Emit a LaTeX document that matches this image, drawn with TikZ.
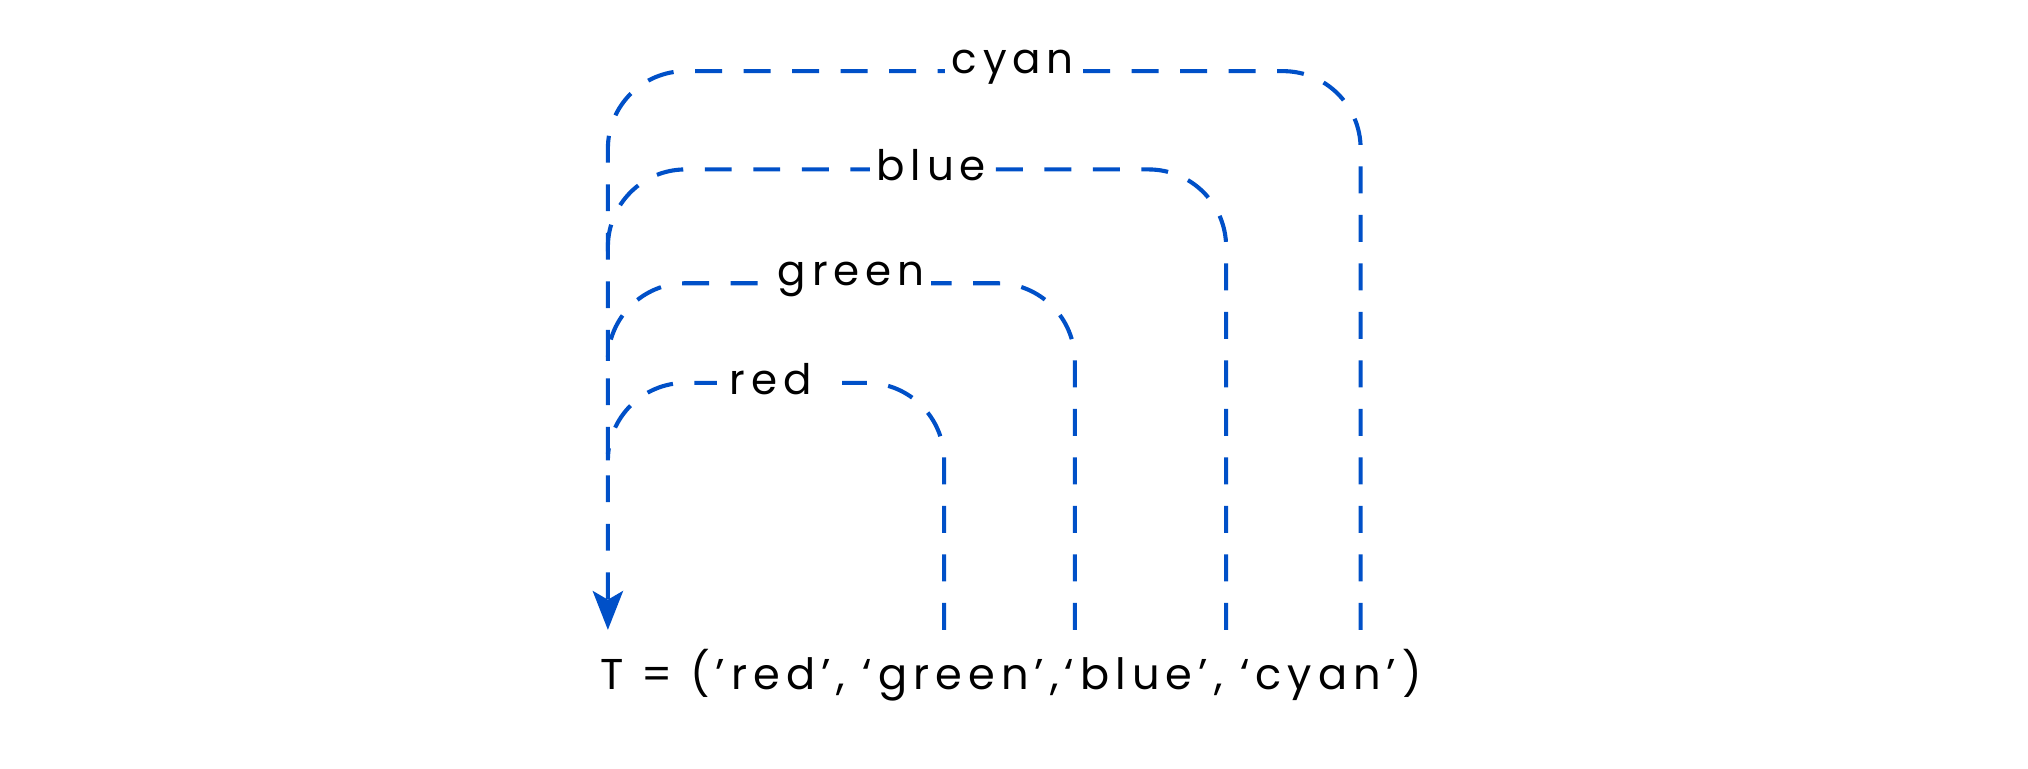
\documentclass[tikz,border=0pt]{standalone}
\usepackage{fontspec}
\setmainfont{Poppins}[LetterSpace=14]
\usetikzlibrary{arrows.meta}
\definecolor{lineblue}{HTML}{0050C8}
\tikzset{
  dline/.style={draw=lineblue, line width=1.9pt, dash pattern=on 12.5pt off 10pt, rounded corners=36pt},
  lbl/.style={fill=white, inner sep=3pt, font=\fontsize{19.5}{24}\selectfont, text=black},
}
\begin{document}
\begin{tikzpicture}[x=0.6pt,y=-0.6pt]
\useasboundingbox (0,0) rectangle (1568,594);
\fill[white] (0,0) rectangle (1568,594);
% end points
\coordinate (cyanB) at (1052,487);
\coordinate (blueB) at (948,487);
\coordinate (greenB) at (831,487);
\coordinate (redB) at (730,487);
\coordinate (leftB) at (470,487);
% paths
\draw[dline, -{Stealth[length=18pt,width=14pt,inset=4pt,fill=lineblue]}] (cyanB) -- (1052,55) -- (470,55) -- (leftB);
\draw[dline] (blueB) -- (948,131) -- (470,131) -- (470,205);
\draw[dline] (greenB) -- (831,219) -- (470,219) -- (470,275);
\draw[dline] (redB) -- (730,296) -- (470,296) -- (470,350);
% labels
\node[lbl] (lcyan) at (783,52) {cyan};
\node[lbl] (lblue) at (720,128) {blue};
\node[lbl] (lgreen) at (658,216) {green};
\node[lbl, anchor=west, inner xsep=0pt] (lred) at (554,293) {\kern6pt red\kern14pt};
\node[anchor=west, inner sep=0pt, font=\fontsize{20}{24}\selectfont] (tup) at (464,522) {T = (’red’, ‘green’,‘blue’, ‘cyan’)};
\end{tikzpicture}
\end{document}
